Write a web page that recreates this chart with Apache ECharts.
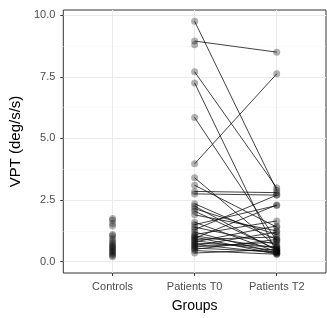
<!DOCTYPE html>
<html>
<head>
<meta charset="utf-8">
<script src="https://cdn.jsdelivr.net/npm/echarts@6/dist/echarts.min.js"></script>
<style>
  html, body { margin: 0; padding: 0; background: #fff; }
  #chart { width: 327px; height: 318px; }
</style>
</head>
<body>
<div id="chart"></div>
<script>
// groups on the x axis (positions 1, 2, 3)
const categories = ['Controls', 'Patients T0', 'Patients T2'];

// VPT values, deg/s/s
const controls = [1.75, 1.68, 1.55, 1.45, 1.1, 1.05, 0.95, 0.85, 0.78, 0.72, 0.65,
                  0.6, 0.55, 0.5, 0.45, 0.4, 0.35, 0.3, 0.25, 0.2];

// paired patients: same index = same patient (null = no T2 value)
const patientsT0 = [9.75, 8.95, 8.8, 7.7, 7.25, 5.85, 3.97, 3.4, 3.1, 2.85, 2.75,
                    2.35, 2.25, 2.15, 2.05, 1.9, 1.6, 1.5, 1.4, 1.3, 1.2, 1.1,
                    1.05, 1.0, 0.95, 0.9, 0.85, 0.8, 0.75, 0.7, 0.65, 0.6, 0.55,
                    0.5, 0.45, 0.35];
const patientsT2 = [2.9, 8.5, null, 3.0, 0.35, 0.85, 7.62, 0.6, 1.4, 2.8, 2.7,
                    0.9, 0.45, 1.1, 0.5, 1.25, 0.4, 2.28, 0.7, 2.7, 0.35, 1.65,
                    0.55, 0.3, 2.3, 1.0, 0.45, 1.45, 0.6, 0.35, 1.2, 0.8, 0.4,
                    0.9, 0.3, 0.5];

const yTicks = [0, 2.5, 5, 7.5, 10];
const yMinor = [1.25, 3.75, 6.25, 8.75];

const chart = echarts.init(document.getElementById('chart'));

const points = [];
controls.forEach(v => points.push([1, v]));
patientsT0.forEach(v => points.push([2, v]));
patientsT2.forEach(v => { if (v !== null) points.push([3, v]); });

const pairs = [];
patientsT0.forEach((v, i) => {
  if (patientsT2[i] !== null) pairs.push({ coords: [[2, v], [3, patientsT2[i]]] });
});

const labelFont = { fontFamily: 'Liberation Sans, Arial, sans-serif', fontSize: 11, color: '#4d4d4d' };

const option = {
  backgroundColor: '#fff',
  animation: false,
  grid: {
    left: 59, top: 10, right: 1, bottom: 40,
    show: true, borderColor: '#333', borderWidth: 1, backgroundColor: 'transparent'
  },
  xAxis: {
    type: 'value', min: 0.4, max: 3.6,
    name: 'Groups', nameLocation: 'middle', nameGap: 26,
    nameTextStyle: { fontFamily: 'Liberation Sans, Arial, sans-serif', fontSize: 14, color: '#000' },
    axisLine: { show: false, onZero: false },
    axisTick: { show: true, length: 3, lineStyle: { color: '#333' }, customValues: [1, 2, 3] },
    axisLabel: Object.assign({ margin: 8, customValues: [1, 2, 3],
      formatter: v => categories[Math.round(v) - 1] }, labelFont),
    splitLine: { show: true, lineStyle: { color: '#ebebeb', width: 1 } }
  },
  yAxis: [{
    type: 'value', min: -0.46, max: 10.21,
    name: 'VPT (deg/s/s)', nameLocation: 'middle', nameGap: 37, nameRotate: 90,
    nameTextStyle: { fontFamily: 'Liberation Sans, Arial, sans-serif', fontSize: 15, color: '#000' },
    axisLine: { show: false, onZero: false },
    axisTick: { show: true, length: 3, lineStyle: { color: '#333' }, customValues: yTicks },
    axisLabel: Object.assign({ margin: 8, customValues: yTicks,
      formatter: v => v.toFixed(1) }, labelFont),
    splitLine: { show: true, lineStyle: { color: '#ebebeb', width: 1 } }
  }, {
    type: 'value', min: -0.46, max: 10.21, position: 'left',
    axisLine: { show: false }, axisLabel: { show: false },
    axisTick: { show: false, customValues: yMinor },
    splitLine: { show: true, lineStyle: { color: '#f5f5f5', width: 0.6 } }
  }],
  series: [{
    type: 'scatter',
    data: points,
    symbolSize: 7,
    itemStyle: { color: 'rgba(0,0,0,0.38)' },
    z: 2
  }, {
    type: 'lines',
    coordinateSystem: 'cartesian2d',
    data: pairs,
    lineStyle: { color: '#111', width: 0.8, opacity: 1 },
    z: 3
  }]
};

chart.setOption(option);
</script>
</body>
</html>
